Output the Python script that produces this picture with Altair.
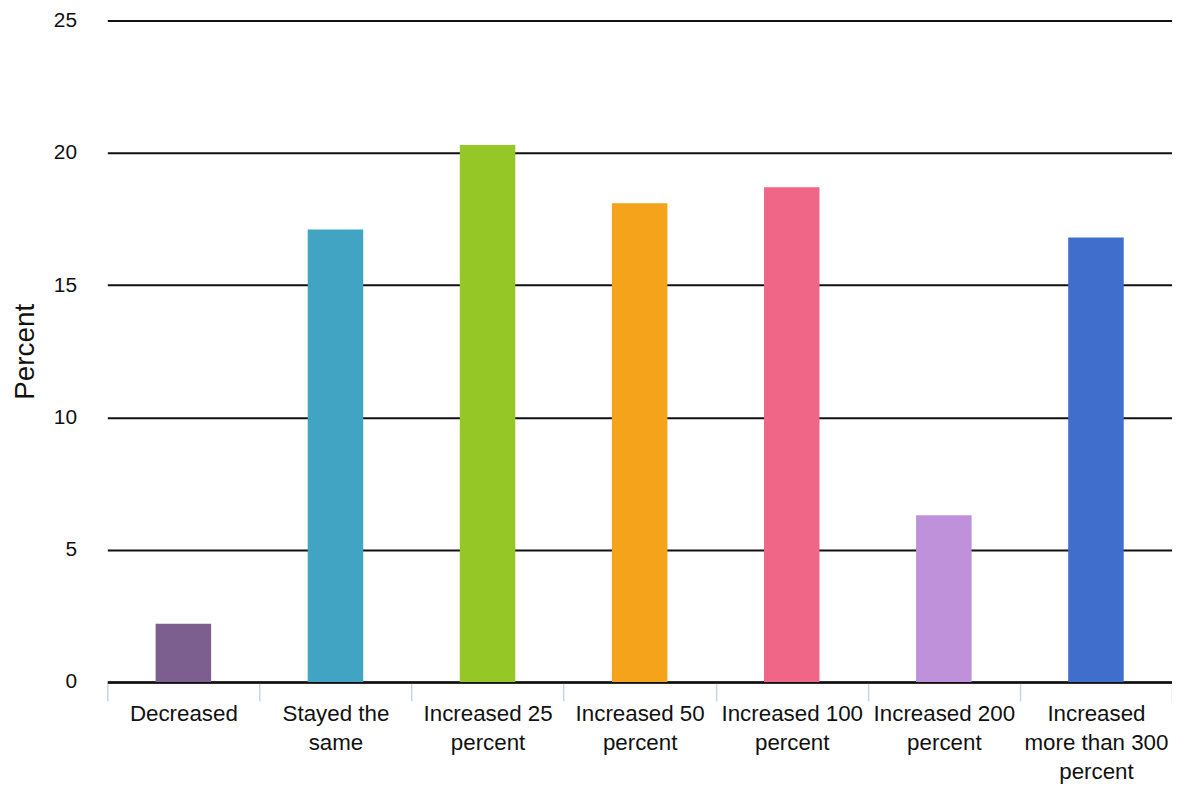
import altair as alt
import pandas as pd

categories = [
    "Decreased",
    "Stayed the|same",
    "Increased 25|percent",
    "Increased 50|percent",
    "Increased 100|percent",
    "Increased 200|percent",
    "Increased|more than 300|percent",
]
values = [2.2, 17.1, 20.3, 18.1, 18.7, 6.3, 16.8]
colors = ["#7D5F8F", "#40A4C2", "#95C826", "#F5A31A", "#F06687", "#BF91DA", "#3F6ECC"]
y_ticks = [0, 5, 10, 15, 20, 25]

df = pd.DataFrame({"category": categories, "value": values})

FONT = "Liberation Sans"

chart = (
    alt.Chart(df)
    .mark_bar(width={"band": 0.365})
    .encode(
        x=alt.X(
            "category:N",
            sort=None,
            title=None,
            scale=alt.Scale(paddingInner=0, paddingOuter=0),
            axis=alt.Axis(
                labelAngle=0,
                labelExpr="split(datum.label, '|')",
                labelFontSize=22.5,
                labelLineHeight=29,
                labelColor="#111",
                labelFont=FONT,
                labelPadding=2,
                labelBaseline="top",
                tickSize=19,
                tickWidth=1.5,
                tickColor="#c8d4e8",
                tickBand="extent",
                domainColor="#111",
                domainWidth=2.5,
                grid=False,
                labelLimit=400,
            ),
        ),
        y=alt.Y(
            "value:Q",
            title="Percent",
            scale=alt.Scale(domain=[0, 25], nice=False),
            axis=alt.Axis(
                values=y_ticks,
                labelFontSize=21,
                labelColor="#111",
                labelFont=FONT,
                labelPadding=31,
                ticks=False,
                domain=False,
                gridColor="#111",
                gridWidth=2,
                titleFont=FONT,
                titleFontSize=28,
                titleFontWeight="normal",
                titleColor="#111",
                titlePadding=14,
            ),
        ),
        color=alt.Color(
            "category:N",
            sort=None,
            scale=alt.Scale(domain=categories, range=colors),
            legend=None,
        ),
    )
    .properties(
        width=1072,
        height=666,
        autosize=alt.AutoSizeParams(type="none"),
        padding={"left": 100, "top": 10, "right": 0, "bottom": 100},
    )
    .configure_view(stroke=None)
)

chart.save("out.html", embed_options={"renderer": "svg", "actions": False})
